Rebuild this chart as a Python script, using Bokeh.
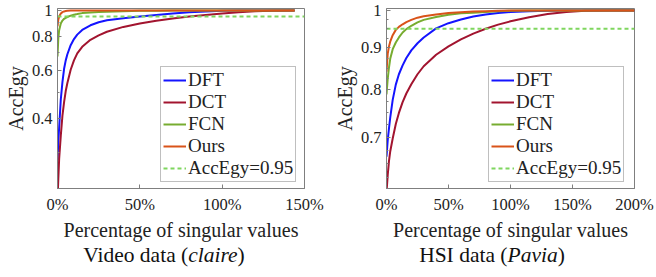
from bokeh.plotting import figure
from bokeh.models import (Range1d, FixedTicker, PrintfTickFormatter, CustomJSTickFormatter,
                          Legend, LegendItem, Div)
from bokeh.layouts import row, column
from bokeh.embed import file_html
from bokeh.resources import INLINE

FONT = "'Liberation Serif', 'DejaVu Serif', serif"

# ---------------- data ----------------
series_names = ["DFT", "DCT", "FCN", "Ours"]
threshold_label = "AccEgy=0.95"
acc_threshold = 0.95

# Video data (claire): x = percentage of singular values
video_x = [0, 0.5, 1, 2, 3, 4, 5, 6, 8, 10, 12, 15, 20, 25, 30, 40, 50, 60, 70, 80, 90, 100, 110, 120, 130, 144]
video_dft = [0.281, 0.33, 0.37, 0.47, 0.545, 0.61, 0.655, 0.69, 0.745, 0.785, 0.815, 0.848, 0.882, 0.905, 0.921,
             0.937, 0.951, 0.963, 0.975, 0.985, 0.992, 0.997, 0.999, 1.0, 1.0, 1.0]
video_dct = [0.20, 0.24, 0.284, 0.346, 0.41, 0.46, 0.505, 0.541, 0.605, 0.655, 0.695, 0.735, 0.78, 0.81, 0.835,
             0.87, 0.895, 0.917, 0.935, 0.95, 0.963, 0.975, 0.986, 0.994, 0.998, 1.0]
video_fcn = [0.677, 0.79, 0.846, 0.895, 0.918, 0.932, 0.94, 0.946, 0.957, 0.965, 0.97, 0.978, 0.984, 0.988, 0.99,
             0.994, 0.997, 0.998, 0.999, 1.0, 1.0, 1.0, 1.0, 1.0, 1.0, 1.0]
video_ours = [0.874, 0.925, 0.95, 0.975, 0.986, 0.992, 0.995, 0.997, 0.999, 1.0, 1.0, 1.0, 1.0, 1.0, 1.0,
              1.0, 1.0, 1.0, 1.0, 1.0, 1.0, 1.0, 1.0, 1.0, 1.0, 1.0]
video_x_ticks = [0, 50, 100, 150]
video_y_ticks = [0.4, 0.6, 0.8, 1]
video_y_minor = [0.3, 0.5, 0.7, 0.9]

# HSI data (Pavia)
hsi_x = [0, 1, 2, 3, 5, 7.5, 10, 13, 16, 20, 25, 30, 40, 50, 60, 70, 80, 90, 100, 115, 130, 145, 160, 180, 200]
hsi_dft = [0.663, 0.695, 0.718, 0.74, 0.778, 0.812, 0.836, 0.857, 0.875, 0.894, 0.912, 0.927, 0.951, 0.965,
           0.975, 0.983, 0.989, 0.993, 0.996, 0.998, 0.999, 1.0, 1.0, 1.0, 1.0]
hsi_dct = [0.60, 0.63, 0.655, 0.673, 0.698, 0.727, 0.75, 0.773, 0.792, 0.813, 0.836, 0.855, 0.883, 0.904,
           0.922, 0.937, 0.95, 0.961, 0.97, 0.981, 0.99, 0.996, 0.999, 1.0, 1.0]
hsi_fcn = [0.79, 0.826, 0.852, 0.873, 0.897, 0.914, 0.927, 0.94, 0.949, 0.958, 0.967, 0.974, 0.982, 0.988,
           0.992, 0.994, 0.996, 0.998, 0.999, 1.0, 1.0, 1.0, 1.0, 1.0, 1.0]
hsi_ours = [0.842, 0.886, 0.904, 0.916, 0.933, 0.947, 0.955, 0.962, 0.968, 0.974, 0.98, 0.984, 0.989, 0.993,
            0.995, 0.997, 0.998, 0.999, 1.0, 1.0, 1.0, 1.0, 1.0, 1.0, 1.0]
hsi_x_ticks = [0, 50, 100, 150, 200]
hsi_y_ticks = [0.7, 0.8, 0.9, 1]
hsi_y_minor = [0.625, 0.65, 0.675, 0.725, 0.75, 0.775, 0.825, 0.85, 0.875, 0.925, 0.95, 0.975]

colors = ["#1414ff", "#a2142f", "#77ac30", "#d95319"]
thr_color = "#7fd65f"
AX = "#7f7f7f"


def make_panel(x, ys, x_max, x_ticks, y_rng, y_ticks, y_minor, width,
               b_left, b_right, leg_loc):
    p = figure(width=width, height=244, output_backend="svg", toolbar_location=None,
               x_range=Range1d(0, x_max), y_range=Range1d(*y_rng), y_axis_type="log",
               min_border_left=b_left, min_border_right=b_right,
               min_border_top=8, min_border_bottom=56,
               background_fill_color="white", border_fill_color="white")
    p.outline_line_color = AX
    p.outline_line_width = 1
    p.xgrid.visible = False
    p.ygrid.visible = False

    rends = []
    for yv, c in zip(ys, colors):
        rends.append(p.line(x, yv, line_color=c, line_width=2))
    thr = p.line([0, x_max], [acc_threshold, acc_threshold], line_color=thr_color,
                 line_width=2, line_dash="4 3")

    xa = p.xaxis[0]
    xa.ticker = FixedTicker(ticks=x_ticks, minor_ticks=[])
    xa.formatter = PrintfTickFormatter(format="%d%%")
    xa.axis_label = "Percentage of singular values"
    ya = p.yaxis[0]
    ya.ticker = FixedTicker(ticks=y_ticks, minor_ticks=y_minor)
    ya.formatter = CustomJSTickFormatter(code="return String(Math.round(tick*100)/100);")
    ya.axis_label = "AccEgy"

    for a in (xa, ya):
        a.axis_line_color = AX
        a.major_tick_line_color = AX
        a.minor_tick_line_color = AX
        a.major_tick_in = 4
        a.major_tick_out = 0
        a.minor_tick_in = 2
        a.minor_tick_out = 0
        a.major_label_text_font = FONT
        a.major_label_text_font_size = "16.5px"
        a.major_label_text_color = "#222222"
        a.axis_label_text_font = FONT
        a.axis_label_text_font_size = "20px"
        a.axis_label_text_font_style = "normal"
        a.axis_label_text_color = "#222222"
    xa.major_label_standoff = 6
    xa.axis_label_standoff = 2
    ya.major_label_standoff = 5
    ya.axis_label_standoff = 2

    items = [LegendItem(label=n, renderers=[r]) for n, r in zip(series_names, rends)]
    items.append(LegendItem(label=threshold_label, renderers=[thr]))
    leg = Legend(items=items, location=leg_loc)
    leg.label_text_font = FONT
    leg.label_text_font_size = "19px"
    leg.label_text_color = "#222222"
    leg.glyph_width = 23
    leg.glyph_height = 20
    leg.label_height = 20
    leg.label_standoff = 2
    leg.spacing = 0
    leg.padding = 2
    leg.margin = 0
    leg.border_line_color = AX
    leg.border_line_width = 1
    leg.background_fill_alpha = 1
    p.add_layout(leg)
    return p


p1 = make_panel(video_x, [video_dft, video_dct, video_fcn, video_ours], 150, video_x_ticks,
                (0.221, 1.017), video_y_ticks, video_y_minor, 328, 57, 24, (103, 6))
p2 = make_panel(hsi_x, [hsi_dft, hsi_dct, hsi_fcn, hsi_ours], 200, hsi_x_ticks,
                (0.6065, 1.0056), hsi_y_ticks, hsi_y_minor, 328, 58, 22, (102, 6))

cap_style = ("display:block;text-align:center;font-family:'Liberation Serif','DejaVu Serif',serif;"
             "font-size:21.5px;color:#111;line-height:22px;width:328px;margin:0;padding:0;")
d1 = Div(text=f'<div style="{cap_style}">Video data (<i>claire</i>)</div>', width=328, height=22, margin=0)
d2 = Div(text=f'<div style="{cap_style}">HSI data (<i>Pavia</i>)</div>', width=328, height=22, margin=0)

layout = row(column(p1, d1, spacing=0), column(p2, d2, spacing=0), spacing=0)

open("out.html", "w").write(file_html(layout, INLINE))
